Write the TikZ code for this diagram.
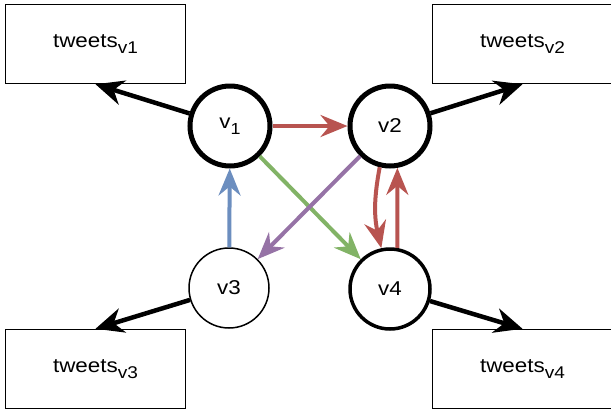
\documentclass[tikz,border=0pt]{standalone}
\usepackage{fontspec}
\setmainfont{Liberation Sans}
\usepackage{graphicx}
\usepackage{tikz}
\usetikzlibrary{arrows.meta}
\definecolor{dred}{HTML}{B85450}
\definecolor{dblue}{HTML}{6C8EBF}
\definecolor{dgreen}{HTML}{82B366}
\definecolor{dpurple}{HTML}{9673A6}
\newcommand{\tsub}[2][17]{\raisebox{-6pt}{\fontsize{#1}{#1}\selectfont #2}}
\newcommand{\wide}[1]{\scalebox{1.12}[1]{#1}}

\begin{document}
\begin{tikzpicture}[x=1pt,y=1pt,
	vert/.style={circle,draw=black,fill=white,minimum size=80pt,inner sep=0pt,font=\fontsize{20}{24}\selectfont},
	tbox/.style={rectangle,draw=black,line width=1.5pt,minimum width=180pt,minimum height=79pt,font=\fontsize{20}{24}\selectfont},
	feed/.style={-{Stealth[length=28pt,width=25pt,inset=9pt]},line width=4.5pt},
	link/.style={-{Stealth[length=27pt,width=22pt,inset=9pt]},line width=4pt}]
			\useasboundingbox (0,0) rectangle (611,-416);
			
			% tweets
			
			\foreach \i/\x/\y in {1/95.5/-44,2/522.5/-44,3/95.5/-369,4/522.5/-369} {
				\node[tbox] (T\i) at (\x,\y) {\wide{tweets\tsub{v\i}}};
			}
			
			% users
			
			\node[vert,line width=5pt] (V1) at (230,-126) {\wide{v\tsub[16]{1}}};
			\node[vert,line width=5pt] (V2) at (390,-126) {\wide{v2}};
			\node[vert,line width=1.5pt] (V3) at (229,-288) {\wide{v3}};
			\node[vert,line width=3.5pt] (V4) at (390,-289) {\wide{v4}};
			
			\foreach \i/\a in {1/south,2/south,3/north,4/north} {
				\draw[feed] (V\i) -- (T\i.\a);
			}
			
			% follows
			
			\draw[link,dred] (V1) -- (V2);
			\draw[link,dblue] (V3) -- (V1);
			\draw[link,dgreen] (V1) -- (V4);
			\draw[link,dpurple] (V2) -- (V3);
			\draw[link,dred] (V2.-104) to[bend right=12] (V4.102);
			\draw[link,dred] (V4.80) -- (V2.-80);
		\end{tikzpicture}
\end{document}
